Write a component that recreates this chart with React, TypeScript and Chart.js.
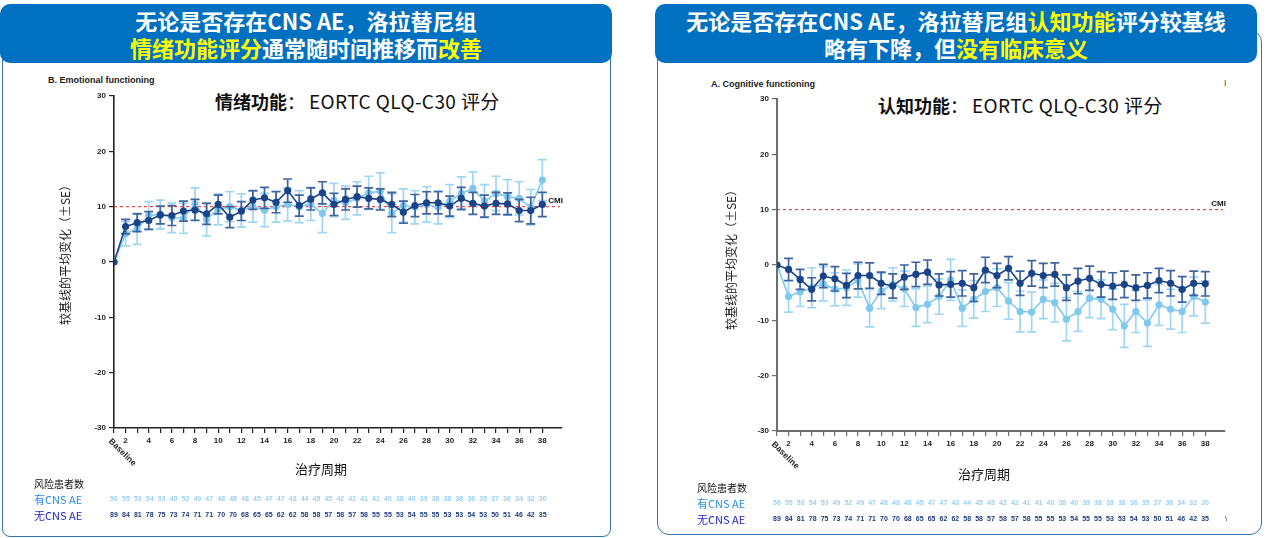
import React, { useEffect, useRef } from 'react';
import { Chart, registerables } from 'chart.js';

Chart.register(...registerables);

// ---------- data ----------
const cycleLabels = [
  'Baseline', '2', '3', '4', '5', '6', '7', '8', '9', '10',
  '11', '12', '13', '14', '15', '16', '17', '18', '19', '20',
  '21', '22', '23', '24', '25', '26', '27', '28', '29', '30',
  '31', '32', '33', '34', '35', '36', '37', '38',
];
const CMI = 10;

// Emotional functioning (B)
const emoWithAE = [0, 5.1, 6.0, 8.4, 8.6, 8.0, 7.9, 10.5, 7.7, 9.5, 10.0, 9.3, 10.0, 9.4, 10.0, 10.4, 10.0, 10.5, 8.8, 11.2, 10.7, 11.5, 12.5, 12.8, 8.8, 10.2, 9.9, 10.4, 9.9, 11.0, 12.4, 13.3, 11.0, 12.4, 11.8, 11.5, 9.9, 14.8];
const emoWithAESE = [0, 2.2, 2.8, 2.5, 2.6, 2.7, 2.7, 2.9, 3.0, 2.8, 2.7, 3.0, 2.8, 3.0, 2.8, 3.0, 2.9, 3.0, 3.5, 3.0, 3.0, 3.0, 3.0, 3.3, 3.5, 3.0, 3.0, 3.2, 3.0, 3.0, 3.0, 3.0, 3.0, 3.1, 3.1, 3.0, 3.2, 3.7];
const emoNoAE = [0, 6.4, 7.1, 7.5, 8.5, 8.4, 9.2, 9.4, 8.7, 10.4, 8.1, 9.2, 11.2, 11.6, 10.8, 12.9, 10.2, 11.4, 12.5, 10.4, 11.3, 11.8, 11.5, 11.3, 10.4, 9.0, 10.2, 10.7, 10.7, 10.1, 11.5, 10.6, 10.1, 10.6, 10.5, 9.3, 9.3, 10.4];
const emoNoAESE = [0, 1.3, 1.6, 1.6, 1.6, 1.8, 1.8, 1.9, 1.9, 1.7, 1.9, 1.7, 1.7, 1.9, 1.9, 2.1, 1.9, 2.0, 2.0, 2.0, 1.9, 1.9, 1.9, 1.9, 2.2, 2.0, 2.0, 2.0, 2.0, 1.8, 2.0, 2.0, 2.0, 2.0, 2.0, 2.0, 2.4, 2.2];

// Cognitive functioning (A)
const cogWithAE = [0, -5.7, -4.9, -4.1, -3.4, -4.4, -4.1, -2.8, -7.8, -4.7, -3.5, -4.3, -7.7, -7.1, -5.7, -2.7, -7.8, -6.2, -4.8, -4.1, -6.5, -8.4, -8.5, -6.2, -6.8, -9.8, -8.4, -6.0, -6.2, -8.0, -11.0, -8.4, -10.5, -7.2, -8.0, -8.4, -5.7, -6.7];
const cogWithAESE = [0, 2.8, 2.6, 3.6, 3.1, 3.0, 3.2, 3.0, 3.4, 3.2, 3.0, 3.2, 3.4, 3.3, 3.2, 3.7, 3.3, 3.4, 3.6, 3.4, 3.3, 3.7, 3.6, 3.5, 3.5, 3.9, 3.6, 3.5, 3.5, 3.7, 3.9, 3.8, 4.2, 3.7, 3.6, 3.8, 3.5, 3.8];
const cogNoAE = [0, -0.8, -2.6, -4.4, -2.0, -2.5, -3.7, -1.9, -1.9, -3.3, -3.8, -2.2, -1.7, -1.3, -3.6, -3.5, -3.3, -4.1, -0.9, -1.9, -0.6, -3.3, -1.5, -1.9, -1.7, -4.1, -2.9, -2.4, -3.5, -3.8, -3.5, -4.1, -3.7, -2.8, -3.3, -4.4, -3.3, -3.4];
const cogNoAESE = [0, 2.0, 1.8, 2.1, 2.1, 2.2, 2.2, 2.4, 2.3, 2.0, 2.2, 2.2, 2.2, 2.2, 2.0, 2.3, 2.3, 2.5, 2.3, 2.2, 2.1, 2.2, 2.3, 2.2, 2.1, 2.3, 2.3, 2.2, 2.3, 2.4, 2.4, 2.3, 2.3, 2.2, 2.3, 2.3, 2.2, 2.2];

// Number at risk
const atRiskWithAE = [56, 55, 53, 54, 53, 49, 52, 49, 47, 48, 48, 48, 45, 47, 47, 43, 44, 45, 45, 42, 42, 41, 41, 40, 38, 40, 39, 38, 38, 38, 36, 35, 37, 36, 34, 32, 30];
const atRiskNoAE = [89, 84, 81, 78, 75, 73, 74, 71, 71, 70, 70, 68, 65, 65, 62, 62, 58, 58, 57, 58, 57, 58, 55, 55, 53, 54, 55, 55, 53, 53, 54, 53, 50, 51, 46, 42, 35];

// ---------- styles ----------
const DARK = '#1a4388';
const DARK_ERR = '#40649e';
const LIGHT = '#7fc8ee';
const LIGHT_ERR = '#9fd6f3';
const CJK = '"Noto Sans CJK SC", "Noto Sans", sans-serif';
const LAT = '"Liberation Sans", Arial, sans-serif';

const toPoints = (vals: number[]) => vals.map((v, i) => ({ x: i + 1, y: v }));

const errorBarPlugin = {
  id: 'errorBars',
  beforeDatasetDraw(chart: any, args: any) {
    const ds = chart.data.datasets[args.index];
    const se: number[] = ds.se;
    if (!se) return;
    const yScale = chart.scales.y;
    const ctx = chart.ctx;
    ctx.save();
    ctx.strokeStyle = ds.errColor;
    ctx.lineWidth = 1.7;
    args.meta.data.forEach((el: any, j: number) => {
      const e = se[j];
      if (!e) return;
      const v = ds.data[j].y;
      const t = yScale.getPixelForValue(v + e);
      const b = yScale.getPixelForValue(v - e);
      const x = el.x;
      ctx.beginPath();
      ctx.moveTo(x, t); ctx.lineTo(x, b);
      ctx.moveTo(x - 4.5, t); ctx.lineTo(x + 4.5, t);
      ctx.moveTo(x - 4.5, b); ctx.lineTo(x + 4.5, b);
      ctx.stroke();
    });
    ctx.restore();
  },
};

const cmiPlugin = {
  id: 'cmiLine',
  beforeDatasetsDraw(chart: any, _args: any, opts: any) {
    const { ctx, chartArea } = chart;
    const y = chart.scales.y.getPixelForValue(opts.value);
    ctx.save();
    ctx.strokeStyle = '#e02424';
    ctx.lineWidth = 1;
    ctx.setLineDash([3, 3]);
    ctx.beginPath();
    ctx.moveTo(chartArea.left, y);
    ctx.lineTo(chartArea.right - 2, y);
    ctx.stroke();
    ctx.setLineDash([]);
    ctx.fillStyle = '#111';
    ctx.font = `bold 8px ${LAT}`;
    ctx.textAlign = 'right';
    ctx.textBaseline = 'middle';
    ctx.fillText(opts.label, chartArea.right + 1, y - 6);
    ctx.restore();
  },
};

const baselinePlugin = {
  id: 'baselineLabel',
  afterDraw(chart: any, _args: any, opts: any) {
    const { ctx, chartArea } = chart;
    const x = chart.scales.x.getPixelForValue(1);
    ctx.save();
    ctx.translate(x - 4, chartArea.bottom + 12);
    ctx.rotate(Math.PI / 4);
    ctx.fillStyle = '#222';
    ctx.font = `bold 8.5px ${LAT}`;
    ctx.textAlign = 'left';
    ctx.textBaseline = 'middle';
    ctx.fillText(opts.text, 0, 0);
    ctx.restore();
  },
};

type ChartProps = {
  lightVals: number[]; lightSE: number[]; darkVals: number[]; darkSE: number[];
  axisColor: string; axisWidth: number;
};

function FuncChart({ lightVals, lightSE, darkVals, darkSE, axisColor, axisWidth }: ChartProps) {
  const ref = useRef<HTMLCanvasElement>(null);
  useEffect(() => {
    if (!ref.current) return;
    const tickFont = { family: LAT, size: 8, weight: 'bold' as const };
    const chart = new Chart(ref.current, {
      type: 'line',
      data: {
        datasets: [
          {
            label: '无CNS AE', data: toPoints(darkVals), se: darkSE, errColor: DARK_ERR,
            borderColor: DARK, backgroundColor: DARK, pointBackgroundColor: DARK,
            pointRadius: 3.6, pointBorderWidth: 0, borderWidth: 1.6, tension: 0, order: 0,
          } as any,
          {
            label: '有CNS AE', data: toPoints(lightVals), se: lightSE, errColor: LIGHT_ERR,
            borderColor: LIGHT, backgroundColor: LIGHT, pointBackgroundColor: LIGHT,
            pointRadius: 3.6, pointBorderWidth: 0, borderWidth: 1.6, tension: 0, order: 1,
          } as any,
        ],
      },
      options: {
        responsive: false,
        animation: false,
        layout: { padding: { top: 10, right: 38, left: 0, bottom: 0 } },
        plugins: {
          legend: { display: false },
          tooltip: { enabled: false },
          cmiLine: { value: CMI, label: 'CMI' },
          baselineLabel: { text: cycleLabels[0] },
        } as any,
        scales: {
          x: {
            type: 'linear', min: 1, max: 39.7,
            afterBuildTicks: (s: any) => { s.ticks = cycleLabels.map((_, i) => ({ value: i + 1 })); },
            afterFit: (s: any) => { s.height = 48; },
            ticks: {
              autoSkip: false, maxRotation: 0, minRotation: 0, padding: 3, color: '#222', font: tickFont,
              callback: (v: any) => (v % 2 === 0 ? cycleLabels[v - 1] : ''),
            },
            grid: { display: true, drawOnChartArea: false, drawTicks: true, tickLength: 5, color: axisColor, lineWidth: 1.2 },
            border: { display: true, color: axisColor, width: axisWidth },
          },
          y: {
            min: -30, max: 30,
            afterFit: (s: any) => { s.width = 74; },
            ticks: { stepSize: 10, padding: 3, color: '#222', font: tickFont },
            grid: { display: true, drawOnChartArea: false, drawTicks: true, tickLength: 5, color: axisColor, lineWidth: 1.2 },
            border: { display: true, color: axisColor, width: axisWidth },
          },
        },
      },
      plugins: [errorBarPlugin, cmiPlugin, baselinePlugin],
    } as any);
    return () => chart.destroy();
  }, []);
  return <canvas ref={ref} width={560} height={390} style={{ display: 'block' }} />;
}

const abs = (left: number, top: number, extra: React.CSSProperties = {}): React.CSSProperties => ({
  position: 'absolute', left, top, ...extra,
});

const Y = (t: string) => <span style={{ color: '#ffff00' }}>{t}</span>;

function RiskTable({ left, top, numLeft, step }: { left: number; top: number; numLeft: number; step: number }) {
  return (
    <>
      <div style={abs(left, top - 7, { fontFamily: CJK, fontSize: 10, color: '#111', lineHeight: '14px', whiteSpace: 'nowrap' })}>风险患者数</div>
      <div style={abs(left, top + 8, { fontFamily: CJK, fontSize: 11, color: '#2b8de8', lineHeight: '14px', whiteSpace: 'nowrap' })}>有CNS AE</div>
      <div style={abs(left, top + 24, { fontFamily: CJK, fontSize: 11, color: '#2424c8', lineHeight: '14px', whiteSpace: 'nowrap' })}>无CNS AE</div>
      {atRiskWithAE.map((n, i) => (
        <div key={'a' + i} style={abs(numLeft + i * step - 10, top + 10, { width: 20, textAlign: 'center', fontFamily: LAT, fontSize: 7, fontWeight: 'bold', color: '#9dd0f2', lineHeight: '10px' })}>{n}</div>
      ))}
      {atRiskNoAE.map((n, i) => (
        <div key={'b' + i} style={abs(numLeft + i * step - 10, top + 26, { width: 20, textAlign: 'center', fontFamily: LAT, fontSize: 7, fontWeight: 'bold', color: '#1f3d7a', lineHeight: '10px' })}>{n}</div>
      ))}
    </>
  );
}

function YTitle({ cx, cy }: { cx: number; cy: number }) {
  return (
    <div style={abs(cx - 90, cy - 8, { width: 180, height: 16, textAlign: 'center', fontFamily: CJK, fontSize: 12, lineHeight: '16px', color: '#222', transform: 'rotate(-90deg)', whiteSpace: 'nowrap' })}>
      较基线的平均变化（±SE）
    </div>
  );
}

function Subtitle({ left, top, bold }: { left: number; top: number; bold: string }) {
  return (
    <div style={abs(left, top, { fontFamily: CJK, fontSize: 18, lineHeight: '24px', color: '#111', whiteSpace: 'nowrap' })}>
      <b>{bold}</b>：<span style={{ fontSize: 19, letterSpacing: 0.4, marginLeft: 4 }}>EORTC QLQ-C30 评分</span>
    </div>
  );
}

export default function App() {
  const header: React.CSSProperties = {
    background: '#0070c0', color: '#fff', borderRadius: 10, fontFamily: CJK, fontWeight: 700,
    fontSize: 22, lineHeight: '27px', textAlign: 'center', paddingTop: 3, boxSizing: 'border-box', whiteSpace: 'nowrap',
  };
  return (
    <div style={{ position: 'absolute', left: 0, top: 0, width: 1268, height: 538, background: '#fff', overflow: 'hidden' }}>
      {/* panel frames */}
      <div style={abs(2, 40, { width: 609, height: 497, border: '1.5px solid #2e75b6', borderRadius: 8, boxSizing: 'border-box' })} />
      <div style={abs(657, 30, { width: 605, height: 505, border: '1.5px solid #2e75b6', borderRadius: 12, boxSizing: 'border-box' })} />

      {/* headers */}
      <div style={abs(0, 4, { ...header, width: 612, height: 59 })}>
        <div>无论是否存在CNS AE，洛拉替尼组</div>
        <div>{Y('情绪功能评分')}通常随时间推移而{Y('改善')}</div>
      </div>
      <div style={abs(655, 4, { ...header, width: 602, height: 59 })}>
        <div>无论是否存在CNS AE，洛拉替尼组{Y('认知功能')}评分较基线</div>
        <div>略有下降，但{Y('没有临床意义')}</div>
      </div>

      {/* left chart */}
      <div style={abs(48, 75, { fontFamily: LAT, fontWeight: 'bold', fontSize: 9, color: '#222', whiteSpace: 'nowrap' })}>B. Emotional functioning</div>
      <Subtitle left={215} top={89} bold="情绪功能" />
      <div style={abs(40, 86, { width: 560, height: 390 })}>
        <FuncChart lightVals={emoWithAE} lightSE={emoWithAESE} darkVals={emoNoAE} darkSE={emoNoAESE} axisColor="#222" axisWidth={1.6} />
      </div>
      <YTitle cx={65} cy={252} />
      <div style={abs(295, 460, { fontFamily: CJK, fontSize: 13, lineHeight: '18px', color: '#111' })}>治疗周期</div>
      <RiskTable left={34} top={484} numLeft={114} step={11.91} />

      {/* right chart */}
      <div style={abs(711, 79, { fontFamily: LAT, fontWeight: 'bold', fontSize: 9, color: '#222', whiteSpace: 'nowrap' })}>A. Cognitive functioning</div>
      <Subtitle left={878} top={93} bold="认知功能" />
      <div style={abs(1224, 77, { fontFamily: LAT, fontSize: 9, color: '#7a3b10', lineHeight: '12px' })}>I</div>
      <div style={abs(703, 89, { width: 560, height: 390 })}>
        <FuncChart lightVals={cogWithAE} lightSE={cogWithAESE} darkVals={cogNoAE} darkSE={cogNoAESE} axisColor="#6e6e6e" axisWidth={2} />
      </div>
      <YTitle cx={731} cy={257} />
      <div style={abs(958, 465, { fontFamily: CJK, fontSize: 13, lineHeight: '18px', color: '#111' })}>治疗周期</div>
      <RiskTable left={697} top={488} numLeft={777} step={11.89} />
      <div style={abs(1225, 513, { fontFamily: LAT, fontSize: 8, color: '#333', lineHeight: '12px' })}>\</div>
    </div>
  );
}
